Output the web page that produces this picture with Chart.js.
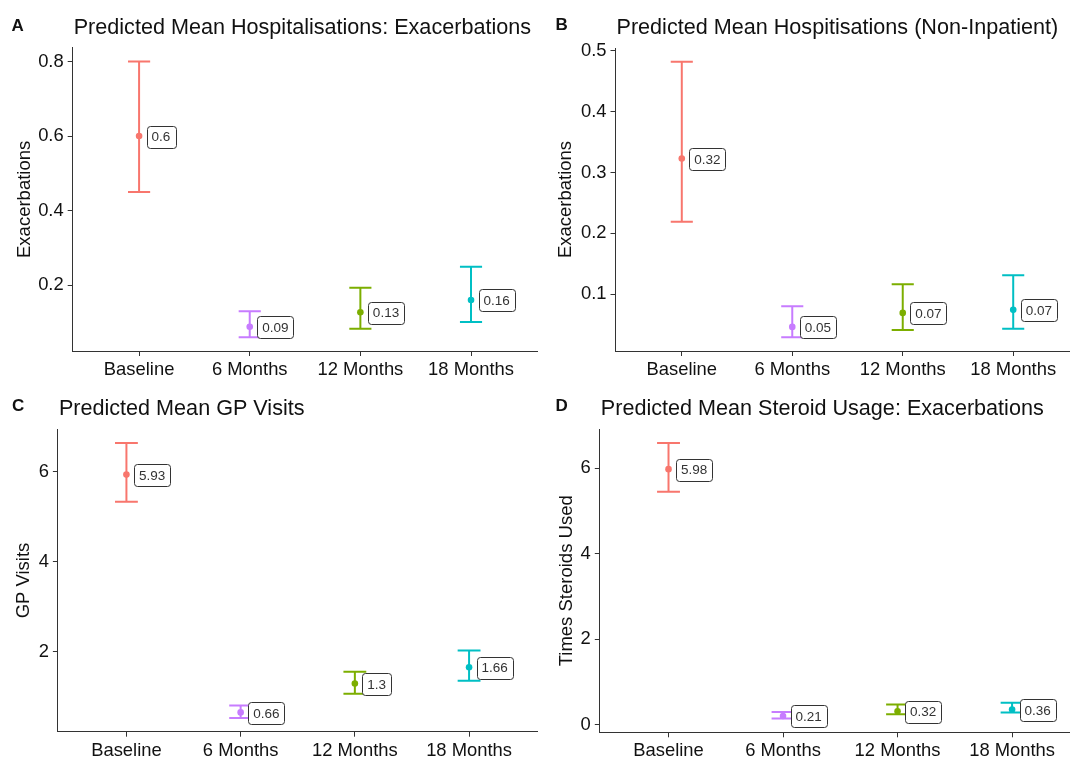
<!DOCTYPE html>
<html>
<head>
<meta charset="utf-8">
<script src="https://cdn.jsdelivr.net/npm/chart.js@4.4.0/dist/chart.umd.min.js"></script>
<style>
  html, body { margin: 0; padding: 0; background: #fff; }
  #figure { position: relative; width: 1070px; height: 759px; overflow: hidden; background: #fff; }
  #figure canvas { position: absolute; }
</style>
</head>
<body>
<div id="figure">
  <canvas id="panelA" width="545" height="390" style="left:0;top:0"></canvas>
  <canvas id="panelB" width="550" height="390" style="left:535px;top:0"></canvas>
  <canvas id="panelC" width="545" height="369" style="left:0;top:390px"></canvas>
  <canvas id="panelD" width="550" height="369" style="left:535px;top:390px"></canvas>
</div>
<script>
// Time points (same in every panel)
const categories = ['Baseline', '6 Months', '12 Months', '18 Months'];

// A: hospitalisations for exacerbations
const hospMean = [0.6, 0.088, 0.127, 0.16];
const hospLow = [0.45, 0.06, 0.083, 0.101];
const hospHigh = [0.8, 0.13, 0.193, 0.249];
const hospTicks = [0.2, 0.4, 0.6, 0.8];

// B: hospitalisations (non-inpatient)
const nonInpMean = [0.323, 0.046, 0.069, 0.074];
const nonInpLow = [0.219, 0.029, 0.041, 0.043];
const nonInpHigh = [0.482, 0.08, 0.116, 0.131];
const nonInpTicks = [0.1, 0.2, 0.3, 0.4, 0.5];

// C: GP visits
const gpMean = [5.93, 0.658, 1.3, 1.66];
const gpLow = [5.33, 0.535, 1.07, 1.36];
const gpHigh = [6.63, 0.81, 1.56, 2.03];
const gpTicks = [2, 4, 6];

// D: steroid usage
const steroidMean = [5.98, 0.21, 0.32, 0.36];
const steroidLow = [5.45, 0.15, 0.25, 0.29];
const steroidHigh = [6.59, 0.30, 0.48, 0.52];
const steroidTicks = [0, 2, 4, 6];

const colors = ['#F8766D', '#C77CFF', '#7CAE00', '#00BFC4'];
const FONT = "'Liberation Sans', Arial, sans-serif";
const CAP = 0.1;          // half width of error bar caps, in category units
const AXIS_COLOR = '#333';

Chart.defaults.font.family = FONT;
Chart.defaults.color = '#111';

// build the error bar as one broken line: top cap, stem, bottom cap
function errorBarPoints(i, lo, hi) {
    const x = i + 1;
    return [
        {x: x - CAP, y: hi}, {x: x + CAP, y: hi}, {x: x, y: null},
        {x: x, y: hi}, {x: x, y: lo}, {x: x, y: null},
        {x: x - CAP, y: lo}, {x: x + CAP, y: lo}
    ];
}

function fmt(v) {
    return String(Number(v.toFixed(2)));
}

function makePanel(id, p) {
    const lo = Math.min(...p.low);
    const hi = Math.max(...p.high);
    const pad = (hi - lo) * 0.05;
    const canvas = document.getElementById(id);

    const datasets = [{
        data: p.mean.map((m, i) => ({x: i + 1, y: m})),
        pointRadius: 3.3,
        pointHoverRadius: 3.3,
        pointBackgroundColor: colors,
        pointBorderWidth: 0,
        showLine: false
    }];
    categories.forEach((c, i) => {
        datasets.push({
            data: errorBarPoints(i, p.low[i], p.high[i]),
            showLine: true,
            spanGaps: false,
            borderColor: colors[i],
            borderWidth: 2,
            pointRadius: 0,
            pointHoverRadius: 0
        });
    });

    // mean labels in white boxes and the panel tag/title
    const textPlugin = {
        id: 'panelText' + id,
        afterDatasetsDraw(chart) {
            const ctx = chart.ctx;
            const meta = chart.getDatasetMeta(0);
            ctx.save();
            ctx.font = '13.5px ' + FONT;
            ctx.textBaseline = 'middle';
            meta.data.forEach((pt, i) => {
                const txt = fmt(p.mean[i]);
                const w = ctx.measureText(txt).width + 10;
                const h = 22;
                const x0 = pt.x + 7.5;
                const y0 = pt.y - h / 2 + 0.5;
                ctx.beginPath();
                ctx.roundRect(Math.round(x0) + 0.5, Math.round(y0) + 0.5, Math.round(w), h, 3);
                ctx.fillStyle = '#fff';
                ctx.fill();
                ctx.lineWidth = 1;
                ctx.strokeStyle = '#333';
                ctx.stroke();
                ctx.fillStyle = '#333';
                ctx.fillText(txt, x0 + 5, pt.y + 1.5);
            });
            ctx.restore();
        },
        afterDraw(chart) {
            const ctx = chart.ctx;
            const area = chart.chartArea;
            ctx.save();
            ctx.fillStyle = '#111';
            ctx.textBaseline = 'alphabetic';
            ctx.font = '21.6px ' + FONT;
            ctx.fillText(p.title, area.left + 1, area.top - 14);
            ctx.font = 'bold 17px ' + FONT;
            ctx.fillText(p.tag, p.tagX, p.tagY);
            ctx.restore();
        }
    };

    new Chart(canvas, {
        type: 'scatter',
        data: {datasets: datasets},
        plugins: [textPlugin],
        options: {
            responsive: false,
            animation: false,
            events: [],
            layout: {
                padding: {left: 0, top: p.area.top, right: canvas.width - p.area.right, bottom: 0}
            },
            plugins: {
                legend: {display: false},
                tooltip: {enabled: false}
            },
            scales: {
                x: {
                    type: 'linear',
                    min: 0.4,
                    max: 4.6,
                    bounds: 'data',
                    afterBuildTicks: axis => {
                        axis.ticks = categories.map((c, i) => ({value: i + 1}));
                    },
                    afterFit: axis => {
                        axis.height = canvas.height - p.area.bottom;
                    },
                    ticks: {
                        callback: (v, i) => categories[i],
                        font: {size: 18.4},
                        color: '#111',
                        padding: 3,
                        maxRotation: 0,
                        autoSkip: false
                    },
                    grid: {
                        display: true,
                        drawOnChartArea: false,
                        drawTicks: true,
                        tickLength: 5,
                        color: AXIS_COLOR
                    },
                    border: {display: true, color: AXIS_COLOR, width: 1}
                },
                y: {
                    type: 'linear',
                    min: lo - pad,
                    max: hi + pad,
                    bounds: 'data',
                    afterBuildTicks: axis => {
                        axis.ticks = p.ticks.map(v => ({value: v}));
                    },
                    afterFit: axis => {
                        axis.width = p.area.left;
                    },
                    ticks: {
                        callback: v => String(v),
                        font: {size: 18.4},
                        color: '#111',
                        padding: 4,
                        autoSkip: false
                    },
                    grid: {
                        display: true,
                        drawOnChartArea: false,
                        drawTicks: true,
                        tickLength: 5,
                        color: AXIS_COLOR
                    },
                    border: {display: true, color: AXIS_COLOR, width: 1},
                    title: {
                        display: true,
                        text: p.yTitle,
                        font: {size: 18.5},
                        color: '#111',
                        padding: {top: p.yTitlePad, bottom: 0}
                    }
                }
            }
        }
    });
}

makePanel('panelA', {
    tag: 'A', tagX: 11.5, tagY: 30.5,
    title: 'Predicted Mean Hospitalisations: Exacerbations',
    yTitle: 'Exacerbations', yTitlePad: 13.5,
    mean: hospMean, low: hospLow, high: hospHigh, ticks: hospTicks,
    area: {left: 72.7, right: 537.4, top: 47.7, bottom: 351}
});

makePanel('panelB', {
    tag: 'B', tagX: 20.5, tagY: 30,
    title: 'Predicted Mean Hospitisations (Non-Inpatient)',
    yTitle: 'Exacerbations', yTitlePad: 19.6,
    mean: nonInpMean, low: nonInpLow, high: nonInpHigh, ticks: nonInpTicks,
    area: {left: 80.5, right: 544.5, top: 48, bottom: 351}
});

makePanel('panelC', {
    tag: 'C', tagX: 12, tagY: 21,
    title: 'Predicted Mean GP Visits',
    yTitle: 'GP Visits', yTitlePad: 12.9,
    mean: gpMean, low: gpLow, high: gpHigh, ticks: gpTicks,
    area: {left: 57.9, right: 537.6, top: 39.3, bottom: 341.7}
});

makePanel('panelD', {
    tag: 'D', tagX: 20.5, tagY: 21,
    title: 'Predicted Mean Steroid Usage: Exacerbations',
    yTitle: 'Times Steroids Used', yTitlePad: 20.4,
    mean: steroidMean, low: steroidLow, high: steroidHigh, ticks: steroidTicks,
    area: {left: 64.8, right: 545.8, top: 39.3, bottom: 342.3}
});
</script>
</body>
</html>
